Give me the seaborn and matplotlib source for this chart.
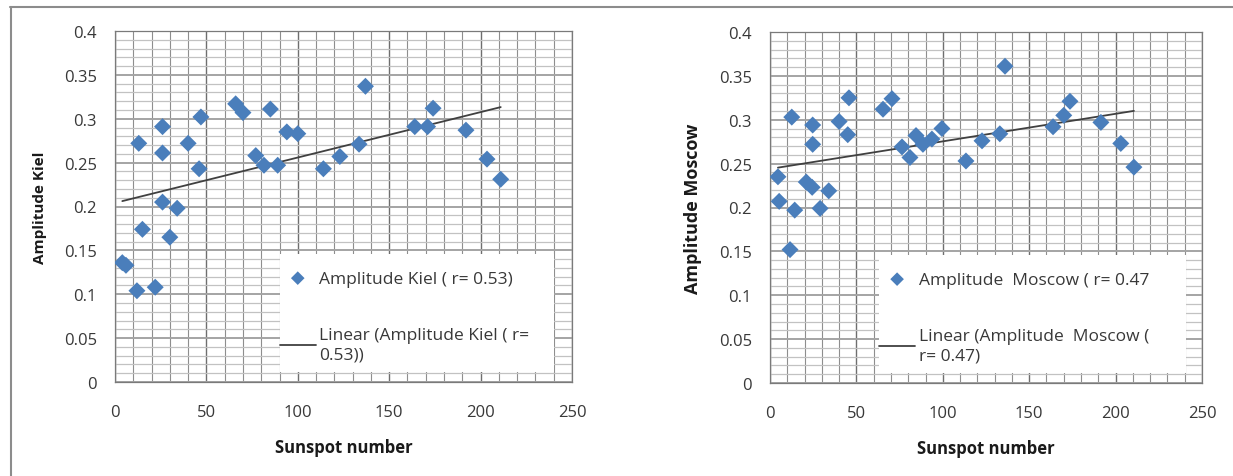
import matplotlib
matplotlib.use('Agg')
import matplotlib.pyplot as plt
import seaborn as sns
from matplotlib.lines import Line2D
from matplotlib.patches import Rectangle
from matplotlib.ticker import MultipleLocator

# Data
kiel_sunspots = [4, 6, 12, 13, 15, 22, 26, 26, 26, 30, 34, 40, 46, 47, 66, 70,
                 77, 81.5, 85, 89, 94, 100, 114, 123, 133.5, 137, 164, 171, 174, 192, 203.5, 211]
kiel_amp = [0.136, 0.133, 0.104, 0.272, 0.174, 0.108, 0.291, 0.261, 0.205, 0.165, 0.198, 0.272,
            0.243, 0.302, 0.317, 0.307, 0.258, 0.247, 0.311, 0.247, 0.285, 0.283, 0.243, 0.257,
            0.271, 0.337, 0.291, 0.291, 0.312, 0.287, 0.254, 0.231]

moscow_sunspots = [4.6, 5.3, 11.6, 12.6, 14.3, 21, 24.4, 24.7, 24.7, 29, 34, 40, 45, 45.7, 65.4, 70.6,
                   76.4, 81, 84.5, 88.5, 93.7, 99.5, 113.4, 122.7, 133, 136, 163.8, 170, 173.6, 191.5, 203, 210.6]
moscow_amp = [0.235, 0.207, 0.152, 0.303, 0.197, 0.229, 0.223, 0.294, 0.272, 0.199, 0.219, 0.298,
              0.283, 0.325, 0.312, 0.324, 0.269, 0.257, 0.282, 0.272, 0.278, 0.290, 0.253, 0.276,
              0.284, 0.361, 0.292, 0.305, 0.321, 0.297, 0.273, 0.246]

x_label = 'Sunspot number'
kiel_labels = ['Amplitude Kiel ( r= 0.53)', 'Linear (Amplitude Kiel ( r=\n0.53))']
moscow_labels = ['Amplitude  Moscow ( r= 0.47', 'Linear (Amplitude  Moscow (\nr= 0.47)']
y_ticks = [0, 0.05, 0.1, 0.15, 0.2, 0.25, 0.3, 0.35, 0.4]
y_tick_labels = ['0', '0.05', '0.1', '0.15', '0.2', '0.25', '0.3', '0.35', '0.4']

sns.set_style('white')
plt.rcParams['font.family'] = ['Open Sans', 'DejaVu Sans']

W, H = 1233, 477
fig = plt.figure(figsize=(W / 100, H / 100), dpi=100)

ax1 = fig.add_axes([115 / W, 1 - 383 / H, 457 / W, 351 / H])
ax2 = fig.add_axes([770 / W, 1 - 384 / H, 432 / W, 351 / H])

panels = [
    (ax1, kiel_sunspots, kiel_amp, 'Amplitude Kiel', 11, kiel_labels, (90, 240)),
    (ax2, moscow_sunspots, moscow_amp, 'Amplitude Moscow', 13, moscow_labels, (63, 241)),
]

for ax, xs, ys, ylab, ylab_size, labels, (bx0, bx1) in panels:
    sns.regplot(x=xs, y=ys, ax=ax, ci=None, marker='D', color='#4a7ebb',
                label=labels[0],
                scatter_kws=dict(s=75, edgecolors='none', alpha=1, zorder=4),
                line_kws=dict(color='#404040', lw=1.3, zorder=3, label=labels[1]))
    ax.set_xlim(0, 250)
    ax.set_ylim(0, 0.4)
    ax.xaxis.set_major_locator(MultipleLocator(50))
    ax.xaxis.set_minor_locator(MultipleLocator(10))
    ax.yaxis.set_minor_locator(MultipleLocator(0.01))
    ax.set_yticks(y_ticks)
    ax.set_yticklabels(y_tick_labels)

    ax.set_axisbelow(True)
    ax.grid(which='major', axis='x', color='#6e6e6e', lw=1.0)
    ax.grid(which='minor', axis='x', color='#8e8e8e', lw=0.8)
    ax.grid(which='major', axis='y', color='#a4a4a4', lw=1.4)
    ax.grid(which='minor', axis='y', color='#c2c2c2', lw=0.9)

    for sp in ax.spines.values():
        sp.set_visible(True)
        sp.set_color('#7a7a7a')
        sp.set_linewidth(0.9)

    ax.tick_params(which='major', direction='out', length=5, width=0.9, color='#8a8a8a',
                   labelsize=12, labelcolor='#383838')
    ax.tick_params(axis='y', which='major', pad=8)
    ax.tick_params(axis='x', which='major', pad=11)
    ax.tick_params(axis='x', which='minor', direction='inout', length=5, width=0.8, color='#8a8a8a')
    ax.tick_params(axis='y', which='minor', length=0)

    ax.set_xlabel(x_label, fontsize=12, fontweight='bold', color='#1a1a1a', labelpad=13)
    ax.set_ylabel(ylab, fontsize=ylab_size, fontweight='bold', color='#1a1a1a', labelpad=12)

    # white legend box as in the spreadsheet chart
    ax.add_patch(Rectangle((bx0, 0.011), bx1 - bx0, 0.135, facecolor='white',
                           edgecolor='none', zorder=2))
    leg = ax.legend(loc='upper left', bbox_to_anchor=(bx0, 0.127), bbox_transform=ax.transData,
                    frameon=False, fontsize=12.5, labelcolor='#383838', handlelength=2.1,
                    handletextpad=0.2, labelspacing=2.3, borderaxespad=0, borderpad=0,
                    markerscale=0.8)
    for t in leg.get_texts():
        t.set_linespacing(1.35)

# outer frame lines
fig.add_artist(Line2D([10 / W, 1], [1 - 8 / H, 1 - 8 / H], color='#8c8c8c', lw=1.5))
fig.add_artist(Line2D([11 / W, 11 / W], [0, 1 - 8 / H], color='#8c8c8c', lw=1.5))

fig.savefig('out.png', dpi=100, facecolor='white')
